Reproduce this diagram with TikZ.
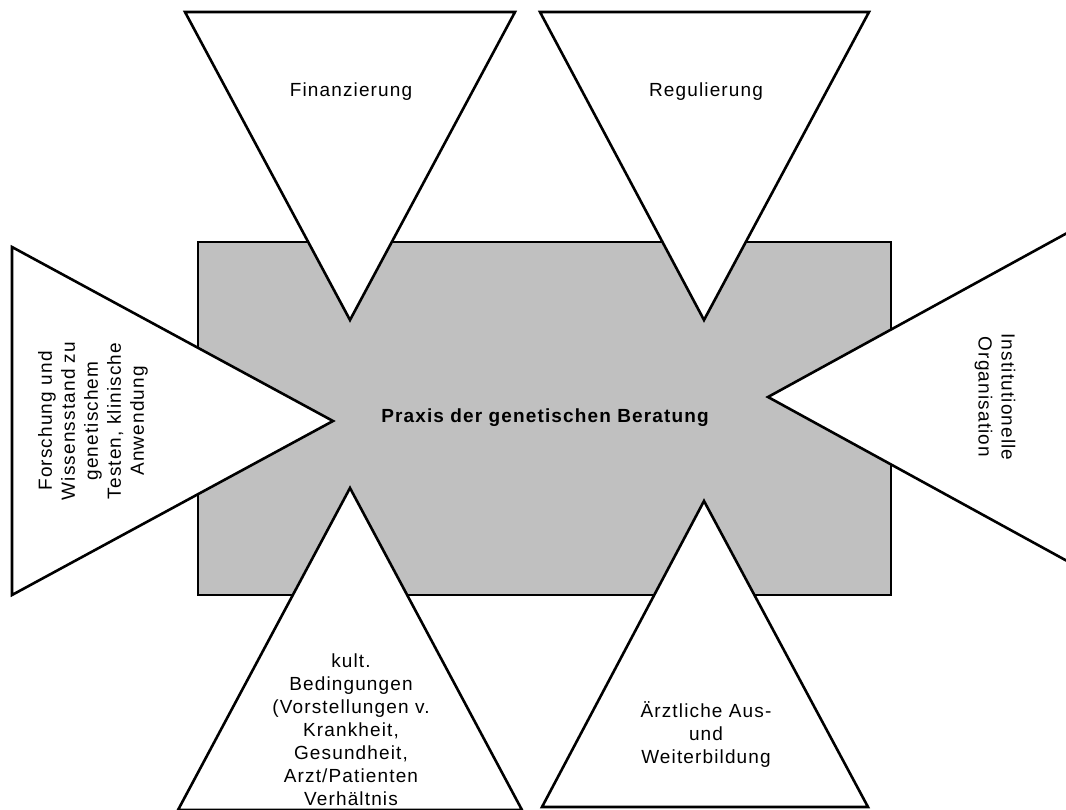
\documentclass[tikz,border=0pt]{standalone}
\usepackage{fontspec}
\setmainfont{Liberation Sans}[LetterSpace=6]
\begin{document}
\begin{tikzpicture}[x=1pt,y=-1pt,
  tri/.style={draw=black,fill=white,line width=2.6pt,line join=miter},
  box/.style={draw=black,fill={rgb,255:red,192;green,192;blue,192},line width=2.6pt},
  lbl/.style={font=\fontsize{19}{23}\selectfont,align=center,inner sep=0pt}]
\useasboundingbox (0,0) rectangle (1066,809);
\clip (0,0) rectangle (1066,809);
\draw[box] (198,242) rectangle (891,595);
% triangles
\draw[tri] (185,12) -- (515,12) -- (350,320) -- cycle;
\draw[tri] (540,12) -- (869,12) -- (704,320) -- cycle;
\draw[tri] (12,247) -- (333,421) -- (12,595) -- cycle;
\draw[tri] (1089,221) -- (768,397) -- (1089,573) -- cycle;
\draw[tri] (350,488) -- (522,810) -- (178,810) -- cycle;
\draw[tri] (704,501) -- (868,807) -- (542,807) -- cycle;
% labels
\node[lbl] (fin) at (351,92) {Finanzierung};
\node[lbl] (reg) at (706,92) {Regulierung};
\node[lbl,font=\fontsize{19}{23}\selectfont\bfseries] (praxis) at (545,418) {Praxis der genetischen Beratung};
\node[lbl,rotate=90] (forsch) at (93,421) {Forschung und\\Wissensstand zu\\genetischem\\Testen, klinische\\Anwendung};
\node[lbl,rotate=-90] (inst) at (995,397) {Institutionelle\\Organisation};
\node[lbl,anchor=north] (kult) at (351,654) {kult.\\Bedingungen\\(Vorstellungen v.\\Krankheit,\\Gesundheit,\\Arzt/Patienten\\Verhältnis};
\node[lbl] (arzt) at (706,735) {Ärztliche Aus-\\und\\Weiterbildung};
\end{tikzpicture}
\end{document}
